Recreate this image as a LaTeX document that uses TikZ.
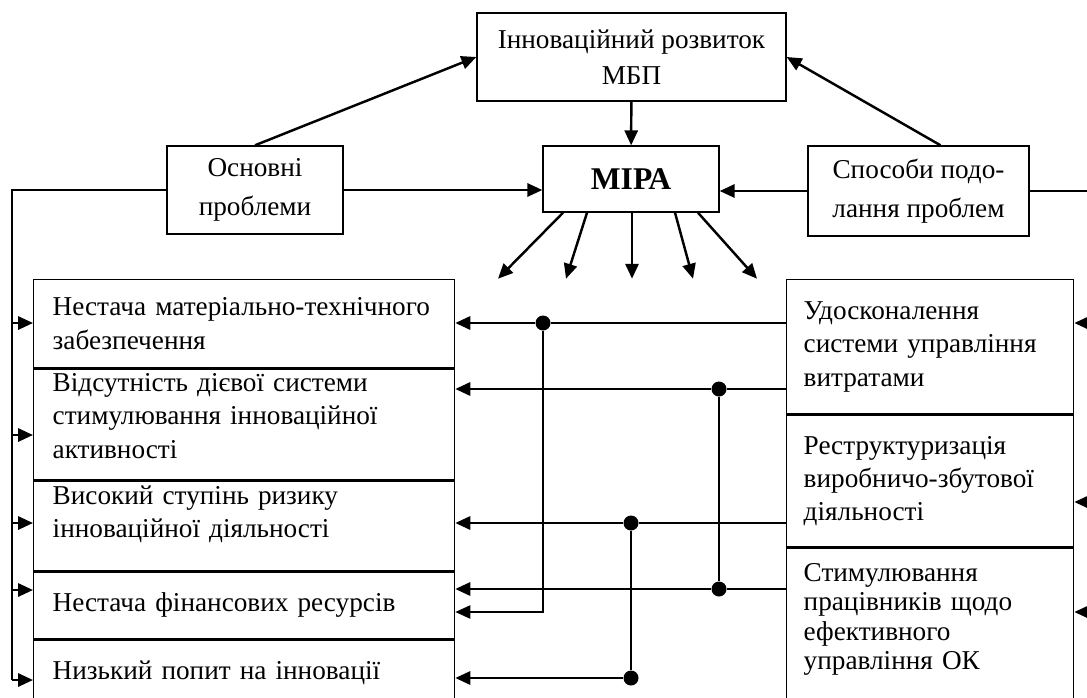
\documentclass[tikz,border=0pt]{standalone}
\usepackage{fontspec}
\setmainfont{Liberation Serif}
\usetikzlibrary{arrows.meta,positioning,calc}
\tikzset{
  box/.style={draw, line width=0.8pt, align=center, inner sep=0pt},
  listbox/.style={draw, line width=0.8pt, align=left, inner ysep=0pt},
  arr/.style={-{Triangle[length=8.5pt,width=7.5pt]}, line width=1.4pt},
  arrthin/.style={-{Triangle[length=8.5pt,width=7.5pt]}, line width=0.9pt},
  bus/.style={line width=0.9pt},
  dot/.style={circle, fill, inner sep=0pt, minimum size=0.3cm}
}
\begin{document}
\begin{tikzpicture}[x=0.02cm, y=-0.02cm, font=\fontsize{15.5}{19}\selectfont]
    \useasboundingbox (0,0) rectangle (1087,697);
    \clip (0,0) rectangle (1087,697);
    % Upper blocks
    \node[box, minimum width=6.18cm, minimum height=1.76cm, font=\fontsize{15.5}{20.5}\selectfont] (top) at (631.5,57) {Інноваційний розвиток\\МБП};
    \node[box, minimum width=3.52cm, minimum height=1.32cm, font=\fontsize{18}{20}\selectfont\bfseries] (mira) at (631,179) {МІРА};
    \node[box, minimum width=3.52cm, minimum height=1.76cm, font=\fontsize{15.5}{22}\selectfont] (osn) at (255,190) {Основні\\проблеми};
    \node[box, minimum width=4.42cm, minimum height=1.8cm, font=\fontsize{15.5}{22}\selectfont] (spos) at (918.5,191) {Способи подо-\\лання проблем};
    \draw[arr] (top) -- (mira);
    \draw[arr] (osn.north) -- (top.west);
    \draw[arr] ($(spos.north)+(22,0)$) -- (top.east);
    \draw[arr] (osn.east) -- (mira.west |- osn.east);
    \draw[arr] (spos.west) -- (mira.east |- spos.west);
    % Fan below MIRA
    \foreach \a/\b in {-68/-133, -44/-65, 1/1, 44/62, 67/126}
      \draw[arr] ($(mira.south)+(\a,0)$) -- ($(mira.south)+(\b,66)$);
    % Problems
    \node[listbox, anchor=north west, text width=7.66cm, inner xsep=0.38cm, minimum height=1.76cm] (n1) at (33,279) {Нестача матеріально-технічного\\забезпечення};
    \node[listbox, below=0pt of n1, text width=7.66cm, inner xsep=0.38cm, minimum height=2.22cm] (n2) {Відсутність дієвої системи\\стимулювання інноваційної\\активності\\[-9pt]\mbox{}};
    \node[listbox, below=0pt of n2, text width=7.66cm, inner xsep=0.38cm, minimum height=1.78cm] (n3) {Високий ступінь ризику\\інноваційної діяльності\\[-3pt]\mbox{}};
    \node[listbox, below=0pt of n3, text width=7.66cm, inner xsep=0.38cm, minimum height=1.34cm] (n4) {Нестача фінансових ресурсів};
    \node[listbox, below=0pt of n4, text width=7.66cm, inner xsep=0.38cm, minimum height=1.3cm] (n5) {Низький попит на інновації};
    % Ways
    \node[listbox, anchor=north west, text width=5.06cm, inner xsep=0.34cm, minimum height=2.68cm] (r1) at (786,279) {Удосконалення\\системи управління\\витратами};
    \node[listbox, below=0pt of r1, text width=5.06cm, inner xsep=0.34cm, minimum height=2.64cm] (r2) {Реструктуризація\\виробничо-збутової\\діяльності};
    \node[listbox, below=0pt of r2, text width=5.06cm, inner xsep=0.34cm, minimum height=3.1cm, font=\fontsize{15.5}{16.8}\selectfont] (r3) {Стимулювання\\працівників щодо\\ефективного\\управління ОК\\[-6pt]\mbox{}};
    % Left bus
    \coordinate (lb) at (12,680);
    \draw[bus] (osn.west) -| (lb);
    \foreach \n/\y in {n1/323, n2/435, n3/523, n4/590, n5/680}
      \draw[arr] (12,\y) -- (\n.west |- 0,\y);
    % Right bus
    \coordinate (rb) at (1094,612);
    \draw[bus] (spos.east) -| (rb);
    \foreach \n/\y in {r1/323, r2/502, r3/612}
      \draw[arr] (1094,\y) -- (\n.east |- 0,\y);
    % Links between ways and problems
    \node[dot] (d1) at (543,323) {};
    \node[dot] (d2) at (719,389) {};
    \node[dot] (d3) at (719,589) {};
    \node[dot] (d4) at (631,523) {};
    \node[dot] (d5) at (631,678) {};
    \coordinate (k1) at (543,612);
    \draw[bus] (r1.west |- d1) -- (d1);
    \draw[arr] (d1) -- (n1.east |- d1);
    \draw[arrthin] (d1) |- (n4.east |- k1);
    \draw[bus] (r1.west |- d2) -- (d2);
    \draw[arr] (d2) -- (n2.east |- d2);
    \draw[bus] (d2) -- (d3);
    \draw[bus] (r3.west |- d3) -- (d3);
    \draw[arr] (d3) -- (n4.east |- d3);
    \draw[bus] (r2.west |- d4) -- (d4);
    \draw[arr] (d4) -- (n3.east |- d4);
    \draw[line width=1.4pt] (d4) -- (d5);
    \draw[arr] (d5) -- (n5.east |- d5);
\end{tikzpicture}
\end{document}
